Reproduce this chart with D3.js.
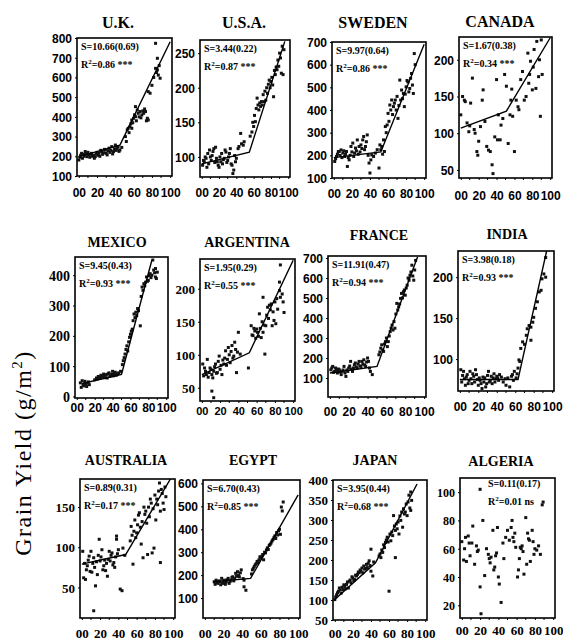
<!DOCTYPE html>
<html>
<head>
<meta charset="utf-8">
<script src="https://cdn.jsdelivr.net/npm/d3@7"></script>
<style>
  body { margin: 0; background: #fff; }
  svg { display: block; }
</style>
</head>
<body>
<svg id="chart" width="563" height="641"></svg>
<script>
const countries = ['U.K.', 'U.S.A.', 'SWEDEN', 'CANADA', 'MEXICO', 'ARGENTINA', 'FRANCE', 'INDIA', 'AUSTRALIA', 'EGYPT', 'JAPAN', 'ALGERIA'];

// [year after 1900, grain yield g/m2]
const ukYield = [[0,181],[1,195],[2,205],[3,215],[4,190],[5,210],[6,200],[7,224],[8,212],[9,198],[10,220],[11,207],[12,195],[13,210],[14,215],[15,200],[16,205],[17,190],[18,198],[19,212],[20,220],[21,205],[22,215],[23,200],[24,230],[25,224],[26,210],[27,218],[28,235],[29,232],[30,215],[31,207],[32,228],[33,241],[34,220],[35,230],[36,249],[37,212],[38,224],[39,238],[40,257],[41,230],[42,241],[43,249],[44,225],[45,232],[47,245],
  [51,300],[52,275],[53,334],[54,342],[55,320],[56,350],[57,365],[58,384],[58,342],[59,370],[60,393],[61,410],[62,401],[62,452],[63,380],[64,435],[65,418],[66,400],[67,427],[68,395],[69,410],[70,430],[71,418],[72,440],[73,427],[74,380],[75,393],[76,384],[76,528],[78,520],[80,560],[82,600],[84,646],[85,625],[86,638],[86,697],[87,612],[88,660],[89,596],[84,773]];
const usaYield = [[1,88],[2,95],[3,93],[4,100],[5,98],[6,85],[7,105],[8,90],[9,110],[10,100],[11,95],[12,102],[13,108],[14,112],[15,92],[16,114],[17,98],[18,93],[19,88],[20,85],[21,100],[22,93],[23,105],[24,90],[25,96],[26,98],[27,110],[28,107],[29,92],[30,95],[31,100],[32,105],[33,112],[34,90],[35,88],[36,76],[37,81],[38,102],[39,93],[40,98],[42,112],[43,115],[45,134],[46,119],[48,117],[49,122],
  [56,130],[58,136],[59,150],[60,144],[61,160],[62,151],[63,170],[64,185],[65,175],[66,168],[67,178],[68,173],[69,180],[70,175],[71,190],[72,180],[73,195],[74,182],[75,200],[76,192],[77,205],[78,211],[79,200],[80,209],[81,215],[82,204],[83,187],[84,225],[85,219],[86,230],[87,226],[88,240],[89,231],[90,250],[91,243],[92,221],[93,260],[94,219],[95,255]];
const swedenYield = [[1,173],[2,185],[3,195],[4,205],[5,217],[6,217],[7,200],[8,224],[9,190],[10,210],[11,220],[12,195],[13,205],[14,217],[15,151],[16,190],[17,180],[18,200],[19,239],[20,215],[21,254],[22,195],[23,210],[24,232],[25,220],[26,268],[27,205],[28,239],[29,215],[30,246],[31,230],[32,268],[33,283],[34,225],[35,239],[36,260],[37,290],[38,200],[39,166],[40,122],[41,180],[42,202],[44,195],[46,210],[48,225],[50,144],
  [51,246],[52,225],[53,239],[54,205],[55,268],[56,217],[57,327],[58,300],[59,334],[60,385],[61,350],[62,422],[63,400],[64,444],[65,380],[66,415],[67,430],[68,444],[69,400],[70,460],[71,363],[72,420],[73,532],[74,444],[75,488],[76,450],[77,473],[78,415],[79,470],[80,502],[81,530],[82,524],[83,480],[84,495],[85,540],[86,561],[87,510],[88,473],[89,649],[90,600]];
const canadaYield = [[0,125],[2,150],[4,145],[5,143],[7,114],[9,102],[10,110],[11,141],[13,175],[15,105],[16,100],[18,75],[19,70],[20,89],[22,109],[24,145],[25,159],[27,116],[29,82],[31,77],[33,75],[35,57],[36,45],[38,95],[40,173],[41,91],[42,125],[44,91],[45,111],[47,120],[49,180],[51,164],[53,86],[55,125],[56,145],[57,160],[58,123],[60,75],[62,145],[64,136],[65,132],[67,173],[69,184],[71,145],[73,150],[75,209],[76,168],[77,180],[78,198],[80,159],[81,190],[82,214],[84,161],[85,225],[87,177],[88,200],[89,123],[90,227],[91,180]];
const mexicoYield = [[4,45],[5,30],[6,52],[7,39],[8,35],[9,50],[10,42],[11,33],[12,44],[13,48],[14,39],[20,55],[22,61],[23,58],[24,66],[25,63],[26,60],[27,70],[28,65],[29,67],[30,74],[31,62],[32,70],[33,72],[34,61],[35,75],[36,78],[37,66],[38,70],[39,73],[40,83],[41,68],[42,74],[43,80],[44,70],[45,72],[46,76],[47,78],[49,83],
  [51,105],[52,118],[53,128],[54,140],[55,155],[56,167],[57,150],[58,180],[59,195],[60,205],[61,215],[62,222],[63,250],[64,272],[65,260],[66,278],[67,267],[68,290],[69,283],[71,233],[72,330],[73,361],[74,350],[75,372],[76,365],[77,377],[78,394],[79,380],[80,383],[81,398],[82,405],[83,392],[84,400],[85,450],[86,417],[87,408],[88,394],[88,422],[89,389],[90,410]];
const argentinaYield = [[1,86],[2,68],[3,80],[4,75],[5,70],[6,93],[7,66],[8,73],[9,80],[10,78],[11,70],[12,65],[13,75],[14,82],[15,86],[16,72],[17,73],[18,90],[19,98],[20,78],[21,84],[22,70],[23,92],[24,86],[25,95],[26,106],[27,84],[28,93],[29,111],[30,100],[31,88],[32,105],[33,114],[34,95],[35,98],[36,119],[37,108],[38,73],[39,104],[40,134],[42,101],[11,45],[13,35],
  [51,80],[54,144],[55,130],[56,129],[57,140],[58,136],[59,125],[60,139],[61,134],[62,128],[63,162],[64,140],[65,126],[66,150],[67,134],[67,187],[68,145],[69,101],[70,144],[71,160],[72,172],[73,155],[74,175],[75,168],[76,177],[77,144],[78,165],[79,152],[80,180],[81,147],[82,185],[83,169],[85,210],[85,197],[86,236],[86,187],[88,192],[89,180],[90,164]];
const franceYield = [[1,141],[2,150],[3,158],[4,128],[5,133],[6,150],[7,140],[8,125],[9,145],[10,141],[11,130],[12,117],[13,133],[14,140],[15,158],[16,125],[17,108],[18,140],[19,133],[20,150],[21,160],[22,183],[23,145],[24,133],[25,150],[26,166],[27,175],[28,155],[29,150],[30,170],[31,183],[32,160],[33,158],[34,183],[35,170],[36,191],[37,165],[38,158],[39,180],[40,200],[41,183],[42,150],[43,133],[45,117],
  [52,216],[53,230],[54,249],[55,266],[56,240],[57,233],[58,270],[59,282],[60,300],[61,257],[62,282],[63,310],[64,332],[65,350],[66,365],[67,340],[68,382],[69,349],[70,420],[71,473],[72,440],[73,456],[74,470],[75,498],[76,523],[77,500],[78,531],[79,540],[80,514],[81,550],[82,564],[83,600],[84,589],[85,614],[86,630],[87,664],[88,610],[89,589],[90,640],[91,688]];
const indiaYield = [[1,87],[2,72],[3,80],[4,85],[5,76],[6,68],[7,78],[8,81],[9,70],[10,74],[11,85],[12,76],[13,70],[14,82],[15,79],[16,72],[17,87],[18,81],[19,75],[20,68],[21,77],[22,74],[23,70],[24,64],[25,78],[26,72],[27,77],[28,66],[29,70],[30,80],[31,85],[32,72],[33,74],[34,79],[35,70],[36,77],[37,82],[38,72],[39,76],[40,79],[41,77],[42,74],[43,81],[45,78],[47,72],[49,76],[50,68],[52,77],[54,66],[56,79],[57,81],[58,74],[59,85],[61,77],[62,82],[63,89],[64,99],[65,97],[66,113],[68,121],[70,118],[72,129],[73,137],[75,141],[77,139],[77,123],[79,145],[80,151],[82,162],[84,170],[86,182],[88,184],[89,198],[91,204],[93,200],[93,224]];
const australiaYield = [[1,95],[2,62],[3,80],[4,60],[5,72],[6,77],[7,84],[8,89],[9,70],[10,95],[11,69],[12,80],[13,87],[13,21],[14,75],[15,52],[16,82],[17,66],[18,90],[19,110],[20,83],[21,88],[22,97],[23,72],[24,77],[25,84],[26,71],[27,80],[28,64],[29,85],[30,95],[31,83],[32,90],[33,93],[34,78],[35,81],[36,75],[37,88],[38,110],[38,114],[39,92],[40,97],[42,48],[44,46],[45,99],[47,90],
  [53,108],[54,126],[55,115],[56,79],[57,120],[58,134],[59,112],[60,118],[61,128],[62,140],[63,143],[64,125],[65,104],[66,132],[67,87],[68,150],[69,141],[70,145],[71,130],[72,91],[73,150],[74,138],[75,160],[76,155],[77,93],[78,148],[79,99],[80,165],[81,134],[82,160],[83,153],[84,170],[85,180],[86,81],[86,145],[87,172],[88,167],[89,155],[90,147],[91,175],[92,163]];
const egyptYield = [[10,171],[11,160],[12,178],[13,168],[14,164],[15,175],[16,171],[17,158],[18,186],[19,164],[20,172],[21,178],[22,160],[23,171],[24,180],[25,186],[26,164],[27,172],[28,178],[29,190],[30,193],[31,175],[32,186],[33,208],[34,195],[35,215],[36,200],[37,193],[38,210],[39,223],[41,185],[42,178],[42,149],[44,134],
  [50,205],[51,223],[52,230],[53,238],[54,245],[55,250],[56,260],[57,255],[58,267],[59,280],[60,275],[61,282],[62,290],[63,267],[64,300],[65,297],[66,310],[67,319],[68,312],[69,330],[70,334],[71,340],[72,349],[73,355],[74,363],[75,371],[76,360],[77,386],[78,375],[79,393],[80,400],[81,378],[82,497],[83,480],[84,519]];
const japanYield = [[0,101],[1,108],[2,113],[3,118],[4,122],[5,130],[6,125],[7,117],[8,132],[9,126],[10,138],[11,134],[12,128],[13,139],[14,145],[15,130],[16,147],[17,150],[18,143],[19,158],[20,155],[21,149],[22,151],[23,162],[24,160],[25,164],[26,170],[27,168],[28,175],[29,172],[30,180],[31,168],[32,185],[33,177],[34,179],[35,189],[36,181],[37,192],[38,198],[39,186],[40,172],[40,227],[42,160],[43,195],
  [49,210],[50,215],[51,206],[52,225],[53,219],[54,238],[55,231],[56,244],[57,250],[58,257],[59,245],[60,122],[61,265],[62,248],[63,270],[64,261],[65,311],[66,285],[67,274],[67,206],[68,290],[69,278],[70,295],[71,265],[72,310],[73,299],[74,320],[75,282],[76,328],[77,315],[78,320],[79,340],[80,311],[81,345],[82,362],[83,330],[84,370],[84,324],[85,349]];
const algeriaYield = [[0,65],[2,52],[3,60],[4,68],[5,51],[7,69],[8,64],[9,55],[11,64],[12,76],[14,49],[16,62],[17,58],[18,59],[20,33],[20,102],[21,14],[23,80],[25,41],[27,60],[29,56],[30,53],[31,50],[32,54],[34,73],[35,45],[36,47],[37,55],[38,57],[39,75],[40,40],[41,35],[43,22],[45,64],[46,53],[48,68],[50,73],[52,66],[54,75],[55,80],[56,68],[57,65],[58,71],[59,61],[61,40],[62,45],[63,53],[64,61],[65,60],[66,62],[67,58],[68,42],[70,82],[71,49],[72,71],[73,67],[74,66],[75,51],[77,73],[78,65],[79,56],[80,60],[82,59],[84,62],[86,56],[88,91],[89,93]];

// piecewise fits: [year, g/m2] knots
const ukFit = [[0,198],[45,257],[100,781]];
const usaFit = [[0,90],[55,107],[96,267]];
const swedenFit = [[0,190],[52,215],[100,690]];
const canadaFit = [[0,107],[51,130],[100,230]];
const mexicoFit = [[6,43],[50,73],[84,450]];
const argentinaFit = [[0,70],[52,103],[100,243]];
const franceFit = [[0,125],[50,158],[93,705]];
const indiaFit = [[0,75],[63,75],[94,232]];
const australiaFit = [[0,79],[48,91],[97,185]];
const egyptFit = [[9,171],[49,186],[100,550]];
const japanFit = [[0,101],[45,193],[91,390]];
const algeriaFit = [];

const slopes = ['S=10.66(0.69)', 'S=3.44(0.22)', 'S=9.97(0.64)', 'S=1.67(0.38)', 'S=9.45(0.43)', 'S=1.95(0.29)', 'S=11.91(0.47)', 'S=3.98(0.18)', 'S=0.89(0.31)', 'S=6.70(0.43)', 'S=3.95(0.44)', 'S=0.11(0.17)'];
const rSquared = ['=0.86 ***', '=0.87 ***', '=0.86 ***', '=0.34 ***', '=0.93 ***', '=0.55 ***', '=0.94 ***', '=0.93 ***', '=0.17 ***', '=0.85 ***', '=0.68 ***', '=0.01 ns'];

const yDomains = [[100,800],[71,269],[100,700],[39,231],[-5,460],[30,245],[5,710],[61,232],[12,185],[13,615],[50,400],[11,110]];
const yTicks = [
  [100,200,300,400,500,600,700,800],
  [100,150,200,250],
  [100,200,300,400,500,600,700],
  [50,100,150,200],
  [0,100,200,300,400],
  [50,100,150,200],
  [100,200,300,400,500,600,700],
  [100,150,200],
  [50,100,150],
  [100,200,300,400,500,600],
  [50,100,150,200,250,300,350,400],
  [20,40,60,80,100]
];
const xTicks = [0, 20, 40, 60, 80, 100];
const xTickLabels = ['00', '20', '40', '60', '80', '100'];

const yields = [ukYield, usaYield, swedenYield, canadaYield, mexicoYield, argentinaYield, franceYield, indiaYield, australiaYield, egyptYield, japanYield, algeriaYield];
const fits = [ukFit, usaFit, swedenFit, canadaFit, mexicoFit, argentinaFit, franceFit, indiaFit, australiaFit, egyptFit, japanFit, algeriaFit];

// panel boxes and text placement
const SANS = '"Liberation Sans", Arial, sans-serif';
const SERIF = '"Liberation Serif", "Times New Roman", serif';
const layout = [
  { x: 77,  y: 38,  w: 95, h: 138, tx: 118, ty: 28,  ts: 16, xl: 21, yf: SANS,  ys: 12, xf: SANS,  xs: 12 },
  { x: 200, y: 40,  w: 90, h: 137, tx: 244, ty: 28,  ts: 16, xl: 20, yf: SANS,  ys: 12, xf: SANS,  xs: 12 },
  { x: 332, y: 42,  w: 94, h: 136, tx: 373, ty: 28,  ts: 16, xl: 20, yf: SANS,  ys: 12, xf: SANS,  xs: 12 },
  { x: 459, y: 37,  w: 93, h: 141, tx: 500, ty: 27,  ts: 16, xl: 22, yf: SANS,  ys: 12, xf: SANS,  xs: 12 },
  { x: 75,  y: 257, w: 93, h: 141, tx: 117, ty: 247, ts: 14, xl: 14, yf: SERIF, ys: 14, xf: SANS,  xs: 12 },
  { x: 200, y: 259, w: 95, h: 142, tx: 247, ty: 247, ts: 14, xl: 14, yf: SERIF, ys: 13, xf: SANS,  xs: 11 },
  { x: 328, y: 256, w: 98, h: 141, tx: 379, ty: 240, ts: 14, xl: 19, yf: SANS,  ys: 12, xf: SANS,  xs: 12 },
  { x: 458, y: 251, w: 96, h: 140, tx: 507, ty: 239, ts: 14, xl: 20, yf: SANS,  ys: 12, xf: SANS,  xs: 12 },
  { x: 80,  y: 479, w: 95, h: 139, tx: 126, ty: 465, ts: 14, xl: 20, yf: SERIF, ys: 13, xf: SERIF, xs: 13 },
  { x: 203, y: 480, w: 97, h: 138, tx: 253, ty: 465, ts: 14, xl: 20, yf: SANS,  ys: 12, xf: SERIF, xs: 13 },
  { x: 333, y: 480, w: 94, h: 140, tx: 375, ty: 465, ts: 14, xl: 18, yf: SERIF, ys: 13, xf: SERIF, xs: 13 },
  { x: 460, y: 478, w: 95, h: 140, tx: 501, ty: 466, ts: 14, xl: 17, yf: SERIF, ys: 12, xf: SERIF, xs: 13, ax: 28, a1: 9, a2: 27 }
];

const svg = d3.select('#chart');
svg.append('rect').attr('width', 563).attr('height', 641).attr('fill', '#fff');

const drawPanel = (name, i) => {
  let b = layout[i];
  let x = d3.scaleLinear().domain([-2, 102]).range([0, b.w]);
  let y = d3.scaleLinear().domain(yDomains[i]).range([b.h, 0]);

  let g = svg.append('g').attr('transform', `translate(${b.x},${b.y})`);

  g.append('clipPath').attr('id', `clip${i}`)
    .append('rect').attr('width', b.w).attr('height', b.h);

  svg.append('text')
    .attr('x', b.tx).attr('y', b.ty)
    .attr('text-anchor', 'middle')
    .style('font-family', SERIF).style('font-weight', 'bold').style('font-size', b.ts + 'px')
    .text(name);

  let yAxis = g.append('g')
    .call(d3.axisLeft(y).tickValues(yTicks[i]).tickSizeInner(2).tickSizeOuter(0).tickPadding(3));
  yAxis.select('.domain').remove();
  yAxis.selectAll('text')
    .attr('dy', '0.36em')
    .style('font-family', b.yf).style('font-weight', 'bold').style('font-size', b.ys + 'px').attr('fill', '#000');

  let xAxis = g.append('g').attr('transform', `translate(0,${b.h})`)
    .call(d3.axisBottom(x).tickValues(xTicks).tickFormat((d, k) => xTickLabels[k]).tickSizeInner(2).tickSizeOuter(0));
  xAxis.select('.domain').remove();
  xAxis.selectAll('text')
    .attr('y', b.xl).attr('dy', null)
    .style('font-family', b.xf).style('font-weight', 'bold').style('font-size', b.xs + 'px').attr('fill', '#000');

  g.append('g').attr('transform', `translate(0,${b.h})`)
    .selectAll('line')
    .data(d3.range(10, 100, 20))
    .enter().append('line')
    .attr('x1', d => x(d)).attr('x2', d => x(d))
    .attr('y1', 0).attr('y2', 2)
    .attr('stroke', '#000');

  g.append('g').attr('clip-path', `url(#clip${i})`)
    .selectAll('rect')
    .data(yields[i])
    .enter().append('rect')
    .attr('x', d => x(d[0]) - 1.5)
    .attr('y', d => y(d[1]) - 1.5)
    .attr('width', 3).attr('height', 3)
    .attr('fill', '#111');

  if (fits[i].length) {
    g.append('path')
      .datum(fits[i])
      .attr('clip-path', `url(#clip${i})`)
      .attr('fill', 'none')
      .attr('stroke', '#000')
      .attr('stroke-width', 1.4)
      .attr('d', d3.line().x(d => x(d[0])).y(d => y(d[1])));
  }

  g.append('rect')
    .attr('width', b.w).attr('height', b.h)
    .attr('fill', 'none').attr('stroke', '#000').attr('stroke-width', 1.6);

  let ax = b.ax !== undefined ? b.ax : 4;
  let a1 = b.a1 !== undefined ? b.a1 : 12;
  let a2 = b.a2 !== undefined ? b.a2 : 30;

  g.append('text')
    .attr('x', ax).attr('y', a1)
    .style('font-family', SERIF).style('font-weight', 'bold').style('font-size', '10px')
    .text(slopes[i]);

  let r = g.append('text')
    .attr('x', ax).attr('y', a2)
    .style('font-family', SERIF).style('font-weight', 'bold').style('font-size', '10px');
  r.append('tspan').text('R');
  r.append('tspan').attr('dy', -4).style('font-size', '7px').text('2');
  r.append('tspan').attr('dy', 4).text(rSquared[i]);
};

countries.forEach(drawPanel);

let label = svg.append('text')
  .attr('transform', 'translate(31,453) rotate(-90)')
  .attr('text-anchor', 'middle')
  .style('font-family', SERIF).style('font-size', '24px').style('letter-spacing', '1.5px');
label.append('tspan').text('Grain Yield  (g/m');
label.append('tspan').attr('dy', -9).style('font-size', '15px').text('2');
label.append('tspan').attr('dy', 9).text(')');
</script>
</body>
</html>
